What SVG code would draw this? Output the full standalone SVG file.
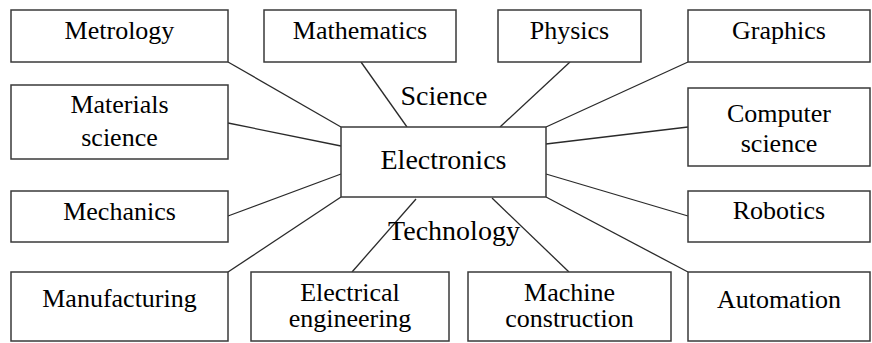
<svg xmlns="http://www.w3.org/2000/svg" width="872" height="343" viewBox="0 0 872 343">
  <rect width="872" height="343" fill="#ffffff"/>

  <!-- spokes from the central node to each field -->
  <g id="connectors" stroke="#2a2a2a" stroke-width="1.3" fill="none">
    <line x1="228" y1="62" x2="341" y2="127"/>
    <line x1="361" y1="62" x2="407" y2="127"/>
    <line x1="570" y1="62" x2="500" y2="127"/>
    <line x1="688" y1="62" x2="546" y2="127"/>
    <line x1="228" y1="123" x2="341" y2="146"/>
    <line x1="688" y1="127" x2="546" y2="144"/>
    <line x1="228" y1="216" x2="341" y2="174"/>
    <line x1="688" y1="216" x2="546" y2="174"/>
    <line x1="228" y1="272" x2="341" y2="197"/>
    <line x1="688" y1="272" x2="546" y2="197"/>
    <line x1="352" y1="272" x2="416" y2="199"/>
    <line x1="569" y1="272" x2="492" y2="198"/>
  </g>

  <g id="boxes" fill="#ffffff" stroke="#3a3a3a" stroke-width="1.5">
    <rect id="electronics-box" x="341" y="127" width="205" height="70"/>
    <rect id="metrology-box" x="11" y="10" width="217" height="52"/>
    <rect id="mathematics-box" x="264" y="10" width="192" height="52"/>
    <rect id="physics-box" x="498" y="10" width="143" height="52"/>
    <rect id="graphics-box" x="688" y="10" width="182" height="52"/>
    <rect id="materials-box" x="11" y="85" width="217" height="74"/>
    <rect id="computer-box" x="688" y="88" width="182" height="78"/>
    <rect id="mechanics-box" x="11" y="191" width="217" height="51"/>
    <rect id="robotics-box" x="688" y="191" width="182" height="51"/>
    <rect id="manufacturing-box" x="11" y="272" width="217" height="69"/>
    <rect id="electrical-box" x="251" y="272" width="198" height="69"/>
    <rect id="machine-box" x="468" y="272" width="203" height="69"/>
    <rect id="automation-box" x="688" y="272" width="182" height="69"/>
  </g>

  <g id="labels">
    <text font-family="Liberation Serif" font-size="28" text-anchor="middle" x="443.5" y="169">Electronics</text>
    <text font-family="Liberation Serif" font-size="28" text-anchor="middle" x="444" y="105">Science</text>
    <text font-family="Liberation Serif" font-size="28" text-anchor="middle" x="454" y="240">Technology</text>
    <text font-family="Liberation Serif" font-size="26" text-anchor="middle" x="119.5" y="39">Metrology</text>
    <text font-family="Liberation Serif" font-size="26" text-anchor="middle" x="360" y="39">Mathematics</text>
    <text font-family="Liberation Serif" font-size="26" text-anchor="middle" x="569.5" y="39">Physics</text>
    <text font-family="Liberation Serif" font-size="26" text-anchor="middle" x="779" y="39">Graphics</text>
    <text font-family="Liberation Serif" font-size="26" text-anchor="middle" x="119.5" y="113">Materials</text>
    <text font-family="Liberation Serif" font-size="26" text-anchor="middle" x="119.5" y="146">science</text>
    <text font-family="Liberation Serif" font-size="26" text-anchor="middle" x="779" y="122">Computer</text>
    <text font-family="Liberation Serif" font-size="26" text-anchor="middle" x="779" y="152">science</text>
    <text font-family="Liberation Serif" font-size="26" text-anchor="middle" x="119.5" y="220">Mechanics</text>
    <text font-family="Liberation Serif" font-size="26" text-anchor="middle" x="779" y="219">Robotics</text>
    <text font-family="Liberation Serif" font-size="26" text-anchor="middle" x="119.5" y="307">Manufacturing</text>
    <text font-family="Liberation Serif" font-size="26" text-anchor="middle" x="350" y="301">Electrical</text>
    <text font-family="Liberation Serif" font-size="26" text-anchor="middle" x="350" y="327">engineering</text>
    <text font-family="Liberation Serif" font-size="26" text-anchor="middle" x="569.5" y="301">Machine</text>
    <text font-family="Liberation Serif" font-size="26" text-anchor="middle" x="569.5" y="327">construction</text>
    <text font-family="Liberation Serif" font-size="26" text-anchor="middle" x="779" y="308">Automation</text>
  </g>
</svg>
